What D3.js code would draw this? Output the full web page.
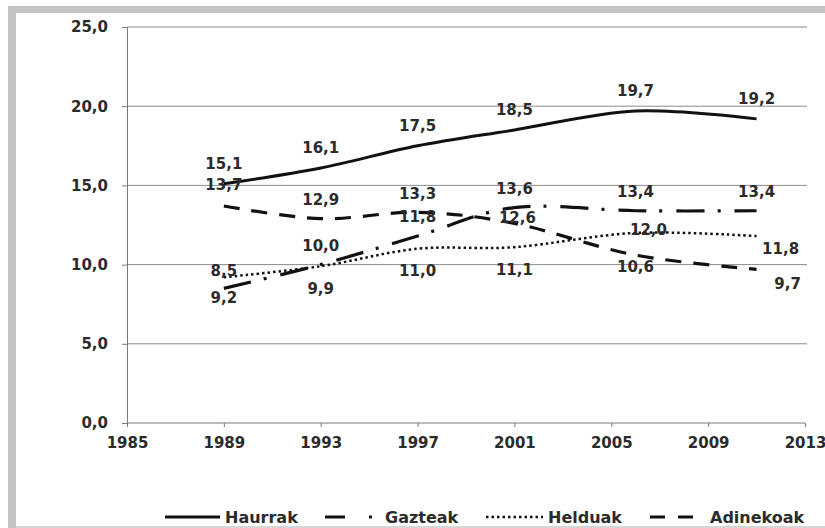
<!DOCTYPE html>
<html lang="en">
<head>
  <meta charset="UTF-8">
  <title>Haurrak, Gazteak, Helduak, Adinekoak</title>
  <style>
    body {
      margin: 0;
      padding: 0;
      background: #fff;
    }
    svg text {
      font-family: "DejaVu Sans", Verdana, sans-serif;
      font-weight: bold;
      fill: #2b2b2b;
    }
  </style>
</head>
<body>
  <svg id="chart" width="825" height="528"></svg>
  <script src="https://d3js.org/d3.v7.min.js"></script>
  <script>
    // data
    const years = [1989, 1993, 1997, 2001, 2006, 2011];
    const haurrak = [15.1, 16.1, 17.5, 18.5, 19.7, 19.2];
    const gazteak = [8.5, 10.0, 11.8, 13.6, 13.4, 13.4];
    const helduak = [9.2, 9.9, 11.0, 11.1, 12.0, 11.8];
    const adinekoak = [13.7, 12.9, 13.3, 12.6, 10.6, 9.7];
    const seriesNames = ['Haurrak', 'Gazteak', 'Helduak', 'Adinekoak'];
    const xTicks = [1985, 1989, 1993, 1997, 2001, 2005, 2009, 2013];
    const yTicks = [0, 5, 10, 15, 20, 25];

    // label offsets from the point (layout only)
    const labelOffsets = {
      Haurrak: [[0, -20], [0, -20], [0, -20], [0, -20], [0, -20], [0, -20]],
      Gazteak: [[0, -18], [0, -19], [0, -19], [0, -19], [0, -19], [0, -19]],
      Helduak: [[0, 20], [0, 22], [0, 22], [0, 22], [13, -3], [24, 13]],
      Adinekoak: [[0, -21], [0, -19], [0, -19], [3, -6], [0, 12], [31, 14]]
    };

    const styles = {
      Haurrak: { dash: null, width: 3 },
      Gazteak: { dash: '28,13,3,14', width: 3.2 },
      Helduak: { dash: '2.5,3', width: 2.5 },
      Adinekoak: { dash: '16,12', width: 3.2 }
    };

    const svg = d3.select('#chart');

    // frame
    svg.append('rect').attr('x', 8).attr('y', 6).attr('width', 817).attr('height', 7).attr('fill', '#c3c3c3');
    svg.append('rect').attr('x', 8).attr('y', 6).attr('width', 8).attr('height', 522).attr('fill', '#c3c3c3');
    svg.append('rect').attr('x', 16).attr('y', 526).attr('width', 809).attr('height', 2).attr('fill', '#d6d6d6');

    const xScale = d3.scaleLinear().domain([1985, 2013]).range([127, 805]);
    const yScale = d3.scaleLinear().domain([0, 25]).range([423, 27]);

    // gridlines
    svg.append('g')
      .selectAll('line')
      .data(yTicks.filter(d => d > 0))
      .enter()
      .append('line')
      .attr('x1', xScale(1985))
      .attr('x2', xScale(2013) + 2)
      .attr('y1', d => yScale(d))
      .attr('y2', d => yScale(d))
      .attr('stroke', '#8c8c8c')
      .attr('stroke-width', 1);

    // axes
    const yAxis = d3.axisLeft(yScale)
      .tickValues(yTicks)
      .tickSize(5)
      .tickPadding(14)
      .tickFormat(d => d3.format('.1f')(d).replace('.', ','));

    const xAxis = d3.axisBottom(xScale)
      .tickValues(xTicks)
      .tickSize(4)
      .tickPadding(10)
      .tickFormat(d3.format('d'));

    const gy = svg.append('g')
      .attr('transform', `translate(${xScale(1985)},0)`)
      .call(yAxis);

    const gx = svg.append('g')
      .attr('transform', `translate(0,${yScale(0)})`)
      .call(xAxis);

    [gx, gy].forEach(g => {
      g.select('.domain').attr('stroke', '#7a7a7a');
      g.selectAll('.tick line').attr('stroke', '#7a7a7a');
      g.selectAll('.tick text').style('font-size', '15px').attr('fill', '#2b2b2b');
    });
    gx.select('.domain').attr('d', `M${xScale(1985)},0H${xScale(2013)}`);

    const allSeries = {
      Haurrak: haurrak,
      Gazteak: gazteak,
      Helduak: helduak,
      Adinekoak: adinekoak
    };

    const line = d3.line()
      .x(d => xScale(d.year))
      .y(d => yScale(d.value))
      .curve(d3.curveCardinal.tension(0));

    seriesNames.forEach(name => {
      const pts = years.map((y, i) => ({ year: y, value: allSeries[name][i] }));
      svg.append('path')
        .datum(pts)
        .attr('d', line)
        .attr('fill', 'none')
        .attr('stroke', '#111')
        .attr('stroke-width', styles[name].width)
        .attr('stroke-dasharray', styles[name].dash);
    });

    // data labels
    seriesNames.forEach(name => {
      const pts = years.map((y, i) => ({ year: y, value: allSeries[name][i], off: labelOffsets[name][i] }));
      svg.append('g')
        .selectAll('text')
        .data(pts)
        .enter()
        .append('text')
        .attr('x', d => xScale(d.year) + d.off[0])
        .attr('y', d => yScale(d.value) + d.off[1])
        .attr('dy', '0.36em')
        .attr('text-anchor', 'middle')
        .style('font-size', '15px')
        .text(d => d3.format('.1f')(d.value).replace('.', ','));
    });

    // legend
    const legendY = 517;
    const legendItems = [
      { name: 'Haurrak', x1: 165, x2: 220, dash: null, tx: 225 },
      { name: 'Gazteak', x1: 325, x2: 373, dash: '20,24,3,20', tx: 385 },
      { name: 'Helduak', x1: 486, x2: 543, dash: '2.5,3', tx: 548 },
      { name: 'Adinekoak', x1: 650, x2: 693, dash: '15,13', tx: 710 }
    ];

    const legend = svg.append('g');
    legendItems.forEach(item => {
      legend.append('line')
        .attr('x1', item.x1)
        .attr('x2', item.x2)
        .attr('y1', legendY)
        .attr('y2', legendY)
        .attr('stroke', '#111')
        .attr('stroke-width', styles[item.name].width)
        .attr('stroke-dasharray', item.dash);
      legend.append('text')
        .attr('x', item.tx)
        .attr('y', legendY)
        .attr('dy', '0.36em')
        .style('font-size', '16px')
        .text(item.name);
    });
  </script>
</body>
</html>
